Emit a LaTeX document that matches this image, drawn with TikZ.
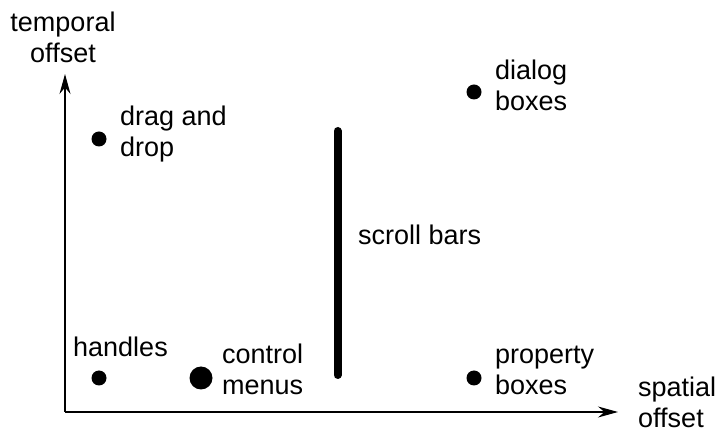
\documentclass[tikz,border=0pt]{standalone}
\usepackage{fontspec}
\setmainfont{Liberation Sans}
\usetikzlibrary{arrows.meta}
\begin{document}
\begin{tikzpicture}[x=1pt,y=-1pt,
  lbl/.style={anchor=base west,inner sep=0pt,align=left,font=\fontsize{27}{31}\selectfont},
  dot/.style={circle,fill=black,inner sep=0pt,minimum size=15pt},
  bigdot/.style={circle,fill=black,inner sep=0pt,minimum size=23pt},
  axis/.style={line width=1.3pt,-{Stealth[length=20pt,width=11pt]}}]
\useasboundingbox (0,0) rectangle (718,435);
\coordinate (O) at (65,412);
\coordinate (ytip) at (65,74);
\coordinate (xtip) at (618,412);
\draw[axis] (O) -- (ytip);
\draw[axis] (O) -- (xtip);
\node[lbl,anchor=base,align=center] (ylab) at (63,63) {temporal\\offset};
\node[lbl] (xlab) at (638,428) {spatial\\offset};
\node[dot] (dd) at (99,139) {};
\node[lbl] (ddt) at (120,157) {drag and\\drop};
\node[dot] (db) at (474,92) {};
\node[lbl] (dbt) at (495,111) {dialog\\boxes};
\coordinate (sbtop) at (337.5,131);
\coordinate (sbbot) at (337.5,375);
\draw[line width=8pt,line cap=round] (sbtop) -- (sbbot);
\node[lbl] (sbt) at (358,245) {scroll bars};
\node[dot] (h) at (99,378) {};
\node[lbl] (ht) at (73,357) {handles};
\node[bigdot] (cm) at (201,378) {};
\node[lbl] (cmt) at (222,395) {control\\menus};
\node[dot] (pb) at (474,378) {};
\node[lbl] (pbt) at (495,395) {property\\boxes};
\end{tikzpicture}
\end{document}
